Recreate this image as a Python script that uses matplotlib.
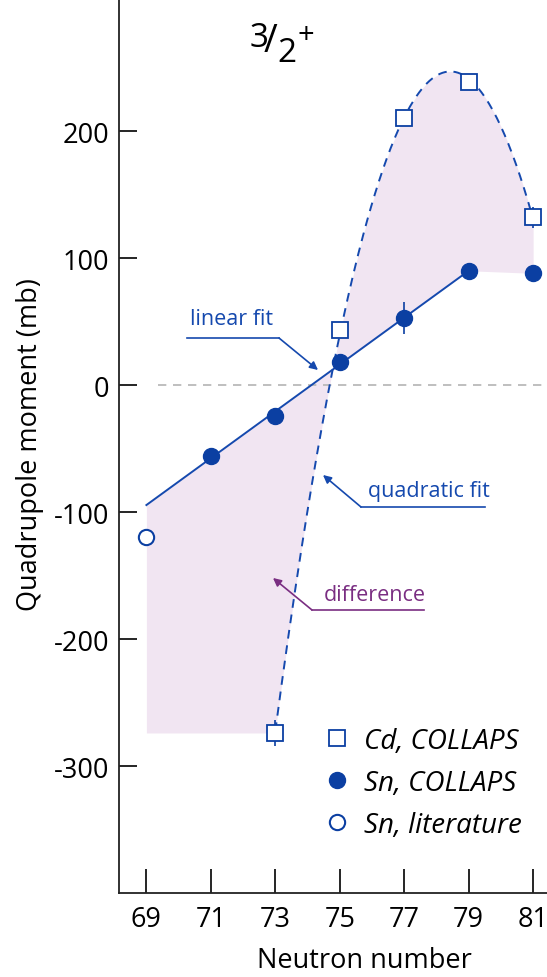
import numpy as np
import matplotlib
matplotlib.use("Agg")
import matplotlib.pyplot as plt
from matplotlib.lines import Line2D

plt.rcParams['font.family'] = ['Open Sans', 'DejaVu Sans']
plt.rcParams['axes.unicode_minus'] = False

# neutron numbers and quadrupole moments (mb)
sn_n = [71, 73, 75, 77, 79, 81]
sn_q = [-56, -24, 18, 53, 90, 88]
sn_err = [4, 4, 4, 12.6, 4, 4]

lit_n = [69]
lit_q = [-120]

cd_n = [73, 75, 77, 79, 81]
cd_q = [-274, 43, 210, 239, 132]
cd_err = [10, 4, 4, 4, 8]

BLUE = '#0b3fa2'
LINE = '#1549ae'
PURPLE = '#7a2e82'
FILL = '#f1e5f2'

W, H = 547, 978
fig = plt.figure(figsize=(W / 100, H / 100), dpi=100)
ax = fig.add_axes([119 / W, 84 / H, 1 - 119 / W, 894 / H])


def px(x, y):
    # pixel position (from top left) -> figure fraction
    return x / W, 1 - y / H


# fits: linear through Sn COLLAPS 71-79, quadratic through Cd
lin = np.polyfit(sn_n[:5], sn_q[:5], 1)
quad = np.polyfit(cd_n, cd_q, 2)

xl = np.linspace(69, 79, 50)
xq = np.linspace(73, 81, 200)

# shaded difference between both trends
xf = np.linspace(69, 81, 400)
upper = np.interp(xf, [69, 79, 81], [np.polyval(lin, 69), np.polyval(lin, 79), sn_q[-1]])
lower = np.where(xf < 73, cd_q[0], np.polyval(quad, xf))
ax.fill_between(xf, lower, upper, color=FILL, lw=0, zorder=1)

ax.plot([69.35, 82], [0, 0], ls=(0, (5, 4)), color='#b4b4b4', lw=1.2, zorder=2)
ax.plot(xl, np.polyval(lin, xl), color=LINE, lw=1.4, zorder=3)
ax.plot(xq, np.polyval(quad, xq), color=LINE, lw=1.4, ls=(0, (4.5, 3.5)), zorder=3)

ax.errorbar(cd_n, cd_q, yerr=cd_err, fmt='none', ecolor=BLUE, elinewidth=1.2, zorder=4)
ax.errorbar(sn_n, sn_q, yerr=sn_err, fmt='none', ecolor=BLUE, elinewidth=1.2, zorder=4)
h_cd, = ax.plot(cd_n, cd_q, 's', ms=11, mfc='white', mec=BLUE, mew=1.3, zorder=5,
                label='Cd, COLLAPS')
h_sn, = ax.plot(sn_n, sn_q, 'o', ms=11.5, mfc=BLUE, mec=BLUE, zorder=5,
                label='Sn, COLLAPS')
h_lit, = ax.plot(lit_n, lit_q, 'o', ms=11, mfc='white', mec=BLUE, mew=1.5, zorder=5,
                 label='Sn, literature')

ax.set_xlim(68.15, 81.43)
ax.set_ylim(-400, 304)
ax.set_xticks([69, 71, 73, 75, 77, 79, 81])
ax.set_yticks([-300, -200, -100, 0, 100, 200])
ax.tick_params(axis='x', direction='in', length=17, width=1.2, pad=9, labelsize=19.5)
ax.tick_params(axis='y', direction='in', length=13, width=1.2, pad=7, labelsize=19.5)
for s in ['top', 'right']:
    ax.spines[s].set_visible(False)
for s in ['left', 'bottom']:
    ax.spines[s].set_linewidth(1.3)
    ax.spines[s].set_color('#222222')

ax.set_xlabel('Neutron number', fontsize=19.5)
ax.xaxis.set_label_coords((364 - 119) / 428, -(968 - 894) / 894)
ax.xaxis.label.set_va('baseline')
ax.set_ylabel('Quadrupole moment (mb)', fontsize=19.5)
ax.yaxis.set_label_coords((30 - 119) / 428, (894 - 445) / 894)
ax.yaxis.label.set_va('center')

ax.legend(handles=[h_cd, h_sn, h_lit], loc='upper left', bbox_to_anchor=px(306, 714),
          bbox_transform=fig.transFigure, frameon=False,
          prop={'style': 'italic', 'size': 20}, handletextpad=0.4, labelspacing=0.5,
          handlelength=1.2, borderpad=0)

# spin-parity label 3/2+
fig.text(*px(259, 47), '3', fontsize=24, ha='center', va='baseline')
fig.text(*px(270, 42), '/', fontsize=27, ha='center', va='center')
fig.text(*px(287, 62), '2', fontsize=24, ha='center', va='baseline')
fig.text(*px(306, 35), '+', fontsize=21, ha='center', va='center')


# annotations with underline leaders
def leader(text, color, tx, ty, x0, x1, yline, tip, start):
    fig.text(*px(tx, ty), text, color=color, fontsize=15.5, ha='left', va='baseline')
    fig.add_artist(Line2D([x0 / W, x1 / W], [1 - yline / H] * 2, color=color, lw=1.2,
                          transform=fig.transFigure))
    ax.annotate('', xy=px(*tip), xytext=px(*start), xycoords='figure fraction',
                textcoords='figure fraction',
                arrowprops=dict(arrowstyle='-|>', color=color, lw=1.2, mutation_scale=12,
                                shrinkA=0, shrinkB=0))


leader('linear fit', LINE, 190, 325, 187, 279, 339, (318, 371), (279, 339))
leader('quadratic fit', LINE, 368, 497, 361, 485, 508, (323, 476), (361, 508))
leader('difference', PURPLE, 324, 601, 312, 424, 611, (273, 579), (312, 611))

fig.savefig('out.png', dpi=100)
